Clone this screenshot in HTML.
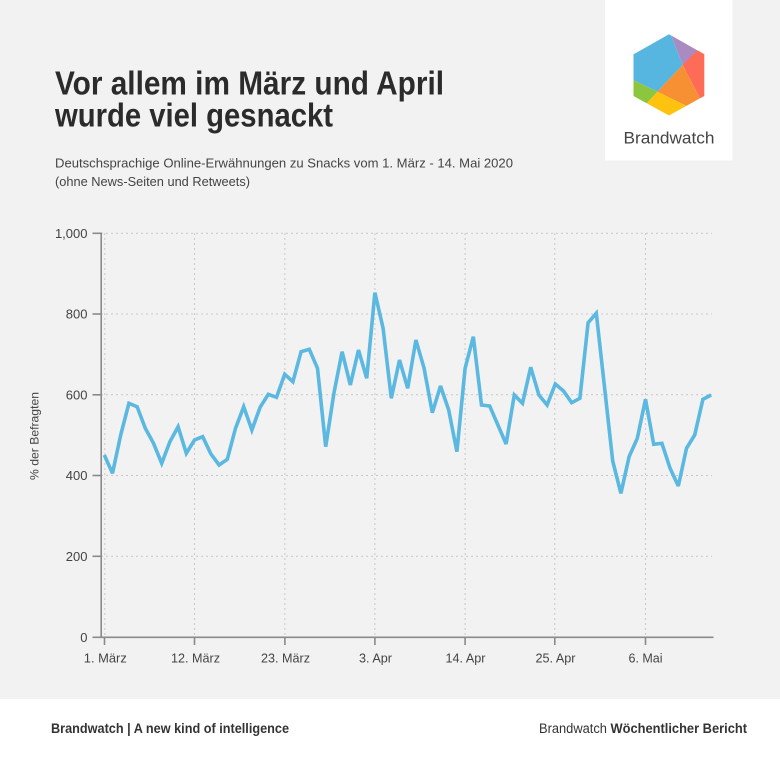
<!DOCTYPE html>
<html><head><meta charset="utf-8"><style>
html,body{margin:0;padding:0;background:#f2f2f2;}
svg{display:block;}
text{font-family:"Liberation Sans",sans-serif;}
</style></head><body>
<svg width="780" height="757" viewBox="0 0 780 757" xmlns="http://www.w3.org/2000/svg">
<rect x="0" y="0" width="780" height="757" fill="#f2f2f2"/>
<!-- logo box -->
<rect x="605" y="0" width="127.5" height="160.5" fill="#ffffff"/>
<defs><clipPath id="hex"><path d="M669,34.3 L704.3,54.3 L704.3,96 L669,115.5 L633.5,96 L633.5,54.3 Z" stroke-linejoin="round"/></clipPath></defs>
<g clip-path="url(#hex)">
<polygon points="669,30 682.7,65 657.3,91.7 633.3,80 630,50" fill="#56b6df"/>
<polygon points="669,30 710,52 682.7,65" fill="#a98bc1"/>
<polygon points="696.7,50.7 710,50 710,98 700,98.3 682.7,65" fill="#fe6c58"/>
<polygon points="682.7,65 700,98.3 686.7,106 657.3,91.7" fill="#f78f33"/>
<polygon points="657.3,91.7 686.7,106 690,120 669,120 646.7,103.3" fill="#ffc20f"/>
<polygon points="630,80 633.3,80 657.3,91.7 646.7,103.3 630,100" fill="#8cc63f"/>
</g>
<text x="623.5" y="143.5" font-size="17" fill="#444" textLength="91" lengthAdjust="spacingAndGlyphs">Brandwatch</text>
<!-- title -->
<text x="55" y="94.3" font-size="33" font-weight="bold" fill="#2b2b2b" textLength="389" lengthAdjust="spacingAndGlyphs">Vor allem im März und April</text>
<text x="55" y="126.7" font-size="33" font-weight="bold" fill="#2b2b2b" textLength="278" lengthAdjust="spacingAndGlyphs">wurde viel gesnackt</text>
<text x="55" y="167.5" font-size="12.5" fill="#444" textLength="458" lengthAdjust="spacingAndGlyphs">Deutschsprachige Online-Erwähnungen zu Snacks vom 1. März - 14. Mai 2020</text>
<text x="55" y="186" font-size="12.5" fill="#444" textLength="195" lengthAdjust="spacingAndGlyphs">(ohne News-Seiten und Retweets)</text>
<!-- grid -->
<g stroke="#c8c8c8" stroke-width="1" stroke-dasharray="2,3" fill="none">
<line x1="101" y1="233.3" x2="712" y2="233.3"/>
<line x1="101" y1="314" x2="712" y2="314"/>
<line x1="101" y1="394.8" x2="712" y2="394.8"/>
<line x1="101" y1="475.5" x2="712" y2="475.5"/>
<line x1="101" y1="556.3" x2="712" y2="556.3"/>
<line x1="104.8" y1="233" x2="104.8" y2="637"/>
<line x1="194.5" y1="233" x2="194.5" y2="637"/>
<line x1="284.9" y1="233" x2="284.9" y2="637"/>
<line x1="374.9" y1="233" x2="374.9" y2="637"/>
<line x1="465.1" y1="233" x2="465.1" y2="637"/>
<line x1="554.8" y1="233" x2="554.8" y2="637"/>
<line x1="645.5" y1="233" x2="645.5" y2="637"/>
</g>
<!-- axes -->
<g stroke="#8a8a8a" stroke-width="1.6" fill="none">
<line x1="101.2" y1="232.5" x2="101.2" y2="637.8"/>
<line x1="100.5" y1="637.3" x2="713.5" y2="637.3"/>
<line x1="92.5" y1="233.3" x2="101" y2="233.3"/>
<line x1="92.5" y1="314" x2="101" y2="314"/>
<line x1="92.5" y1="394.8" x2="101" y2="394.8"/>
<line x1="92.5" y1="475.5" x2="101" y2="475.5"/>
<line x1="92.5" y1="556.3" x2="101" y2="556.3"/>
<line x1="92.5" y1="637.3" x2="101" y2="637.3"/>
<line x1="104.5" y1="637" x2="104.5" y2="645"/>
<line x1="194.5" y1="637" x2="194.5" y2="645"/>
<line x1="284.9" y1="637" x2="284.9" y2="645"/>
<line x1="374.9" y1="637" x2="374.9" y2="645"/>
<line x1="465.1" y1="637" x2="465.1" y2="645"/>
<line x1="554.8" y1="637" x2="554.8" y2="645"/>
<line x1="645.5" y1="637" x2="645.5" y2="645"/>
</g>
<g font-size="13" fill="#444" text-anchor="end">
<text x="87.5" y="238">1,000</text>
<text x="87.5" y="318.7">800</text>
<text x="87.5" y="399.5">600</text>
<text x="87.5" y="480.2">400</text>
<text x="87.5" y="561">200</text>
<text x="87.5" y="642">0</text>
</g>
<g font-size="13" fill="#444" text-anchor="middle">
<text x="105.3" y="662.5" textLength="43" lengthAdjust="spacingAndGlyphs">1. März</text>
<text x="195.5" y="662.5" textLength="49" lengthAdjust="spacingAndGlyphs">12. März</text>
<text x="285.5" y="662.5" textLength="49" lengthAdjust="spacingAndGlyphs">23. März</text>
<text x="375.5" y="662.5" textLength="33" lengthAdjust="spacingAndGlyphs">3. Apr</text>
<text x="465.5" y="662.5" textLength="40" lengthAdjust="spacingAndGlyphs">14. Apr</text>
<text x="555.5" y="662.5" textLength="40" lengthAdjust="spacingAndGlyphs">25. Apr</text>
<text x="645.5" y="662.5" textLength="34" lengthAdjust="spacingAndGlyphs">6. Mai</text>
</g>
<text transform="translate(38.5,436) rotate(-90)" font-size="12" fill="#444" text-anchor="middle" textLength="88" lengthAdjust="spacingAndGlyphs">% der Befragten</text>
<!-- series -->
<polyline fill="none" stroke="#5bb8e0" stroke-width="3.6" stroke-linejoin="miter" stroke-miterlimit="3" points="104.3,455 112.5,473.3 120.7,435 128.9,403.3 137.1,406.7 145.3,428.3 153.5,443.3 161.7,463.3 169.9,441.7 178.1,426.7 186.3,453.3 194.5,440 202.7,436.7 210.9,454 219.1,465 227.3,459.3 235.5,428.3 243.7,406.7 251.9,430 260.1,407.3 268.3,394.3 276.5,397.3 284.7,374.3 292.9,381.7 301.1,351.7 309.3,349.3 317.5,368.3 325.7,446.7 333.9,393.3 342.1,351.7 350.3,385 358.5,350 366.7,378.3 374.9,292.7 383.1,328.3 391.3,398.3 399.5,360 407.7,388.3 415.9,340 424.1,368.3 432.3,412.7 440.5,386 448.7,410 456.9,451.7 465.1,368.3 473.3,336.7 481.5,405 489.7,406 497.9,425 506.1,444 514.3,395 522.5,403.3 530.7,367.3 538.9,395 547.1,405 555.3,384 563.5,391 571.7,402.7 579.9,398.3 588.1,322.7 596.3,313.3 604.5,387 612.7,461 620.9,493.3 629.1,456.7 637.3,438.3 645.5,399.3 653.7,444.3 661.9,443.3 670.1,468.3 678.3,486 686.5,448.3 694.7,435 702.9,399.3 711.1,395"/>
<!-- footer -->
<rect x="0" y="699" width="780" height="58" fill="#ffffff"/>
<text x="51" y="733" font-size="13.5" font-weight="bold" fill="#333" textLength="238" lengthAdjust="spacingAndGlyphs">Brandwatch | A new kind of intelligence</text>
<text x="539" y="733" font-size="13.5" fill="#333" textLength="208" lengthAdjust="spacingAndGlyphs">Brandwatch <tspan font-weight="bold">Wöchentlicher Bericht</tspan></text>
</svg>
</body></html>
